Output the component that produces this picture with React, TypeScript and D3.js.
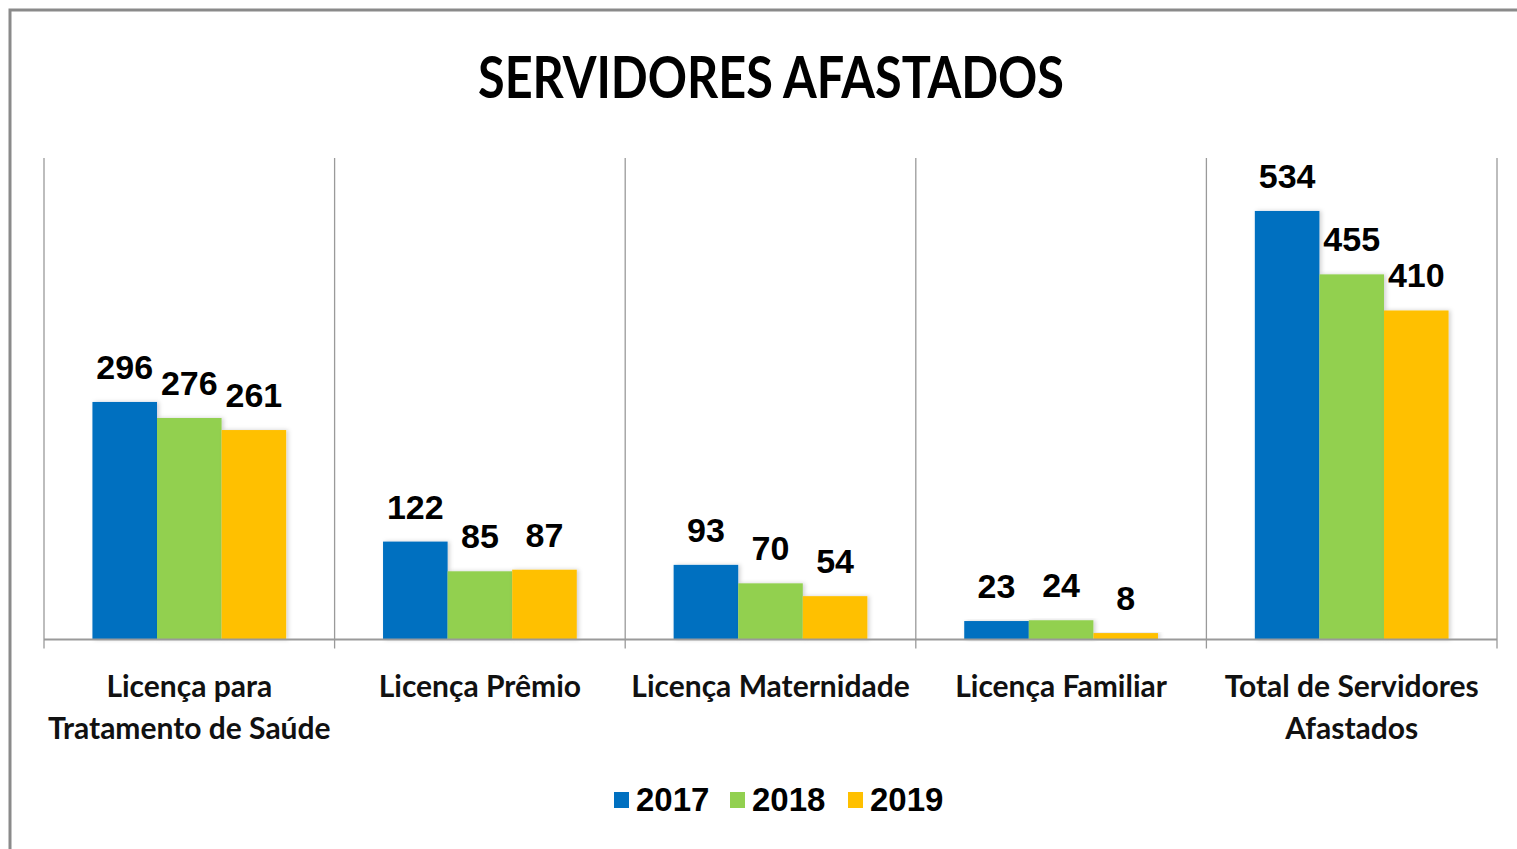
import { useEffect, useRef } from 'react';
import * as d3 from 'd3';

const title = 'SERVIDORES AFASTADOS';
const categories = [
  'Licença para\nTratamento de Saúde',
  'Licença Prêmio',
  'Licença Maternidade',
  'Licença Familiar',
  'Total de Servidores\nAfastados',
];
const years = ['2017', '2018', '2019'];
const values2017 = [296, 122, 93, 23, 534];
const values2018 = [276, 85, 70, 24, 455];
const values2019 = [261, 87, 54, 8, 410];
const yTicks = [0, 600];

const colors = ['#0070C0', '#92D050', '#FFC000'];

export default function App() {
  const ref = useRef<SVGSVGElement>(null);

  useEffect(() => {
    if (!ref.current) return;
    const svg = d3.select(ref.current);
    svg.selectAll('*').remove();

    const width = 1517;
    const height = 849;
    const left = 44;
    const right = 1497;
    const top = 158;
    const base = 639.5;

    svg.append('rect').attr('width', width).attr('height', height).attr('fill', 'white');

    // frame (only left/top visible in the crop)
    svg.append('path')
      .attr('d', `M10,${height} L10,10 L${width},10`)
      .attr('fill', 'none')
      .attr('stroke', '#8a8a8a')
      .attr('stroke-width', 3);

    const defs = svg.append('defs');
    defs.append('filter')
      .attr('id', 'shadow')
      .attr('x', '-10%').attr('y', '-10%').attr('width', '130%').attr('height', '120%')
      .append('feDropShadow')
      .attr('dx', 2).attr('dy', 0).attr('stdDeviation', 2)
      .attr('flood-color', '#000').attr('flood-opacity', 0.18);

    // title
    svg.append('text')
      .attr('x', 771)
      .attr('y', 98)
      .attr('text-anchor', 'middle')
      .attr('font-family', 'Lato, "Open Sans", sans-serif')
      .attr('font-weight', 700)
      .attr('font-size', 57)
      .attr('textLength', 586)
      .attr('lengthAdjust', 'spacingAndGlyphs')
      .attr('fill', '#000')
      .text(title);

    const x0 = d3.scaleBand<number>()
      .domain(d3.range(categories.length))
      .range([left, right])
      .paddingInner(0)
      .paddingOuter(0);

    const x1 = d3.scaleBand<number>()
      .domain(d3.range(years.length))
      .range([0, x0.bandwidth()])
      .paddingInner(0)
      .paddingOuter(0.75);

    const y = d3.scaleLinear().domain([yTicks[0], yTicks[1]]).range([base, top]);

    const g = svg.append('g');

    // vertical separators
    const seps = d3.range(categories.length + 1).map((i) => left + i * x0.bandwidth());
    g.selectAll('line.sep')
      .data(seps)
      .join('line')
      .attr('x1', (d) => d)
      .attr('x2', (d) => d)
      .attr('y1', top)
      .attr('y2', base + 9)
      .attr('stroke', '#9a9a9a')
      .attr('stroke-width', 1.3);

    const series = [values2017, values2018, values2019];

    series.forEach((vals, si) => {
      g.selectAll(`rect.s${si}`)
        .data(vals)
        .join('rect')
        .attr('x', (_, i) => x0(i)! + x1(si)!)
        .attr('y', (d) => y(d))
        .attr('width', x1.bandwidth())
        .attr('height', (d) => base - y(d))
        .attr('fill', colors[si])
        .style('filter', 'url(#shadow)');
    });

    series.forEach((vals, si) => {
      g.selectAll(`text.v${si}`)
        .data(vals)
        .join('text')
        .attr('x', (_, i) => x0(i)! + x1(si)! + x1.bandwidth() / 2)
        .attr('y', (d) => y(d) - 23)
        .attr('text-anchor', 'middle')
        .attr('font-family', '"Liberation Sans Narrow", "Liberation Sans", sans-serif')
        .attr('font-weight', 700)
        .attr('font-size', 34)
        .attr('fill', '#000')
        .text((d) => d);
    });

    // baseline
    g.append('line')
      .attr('x1', left)
      .attr('x2', right)
      .attr('y1', base)
      .attr('y2', base)
      .attr('stroke', '#9a9a9a')
      .attr('stroke-width', 2);

    // category labels
    categories.forEach((c, i) => {
      const t = g.append('text')
        .attr('text-anchor', 'middle')
        .attr('font-family', 'Lato, "Open Sans", sans-serif')
        .attr('font-weight', 700)
        .attr('font-size', 30)
        .attr('fill', '#111');
      c.split('\n').forEach((line, li) => {
        t.append('tspan')
          .attr('x', x0(i)! + x0.bandwidth() / 2)
          .attr('y', 697 + li * 42)
          .text(line);
      });
    });

    // legend
    const legendX = [614, 730, 848];
    years.forEach((yr, i) => {
      const lg = svg.append('g').attr('transform', `translate(${legendX[i]},0)`);
      lg.append('rect')
        .attr('x', 0)
        .attr('y', 792)
        .attr('width', 15)
        .attr('height', 16)
        .attr('fill', colors[i]);
      lg.append('text')
        .attr('x', 22)
        .attr('y', 811)
        .attr('font-family', '"Liberation Sans Narrow", "Liberation Sans", sans-serif')
        .attr('font-weight', 700)
        .attr('font-size', 33)
        .attr('fill', '#000')
        .text(yr);
    });
  }, []);

  return (
    <svg
      ref={ref}
      width={1517}
      height={849}
      style={{ position: 'absolute', left: 0, top: 0, display: 'block' }}
    />
  );
}
